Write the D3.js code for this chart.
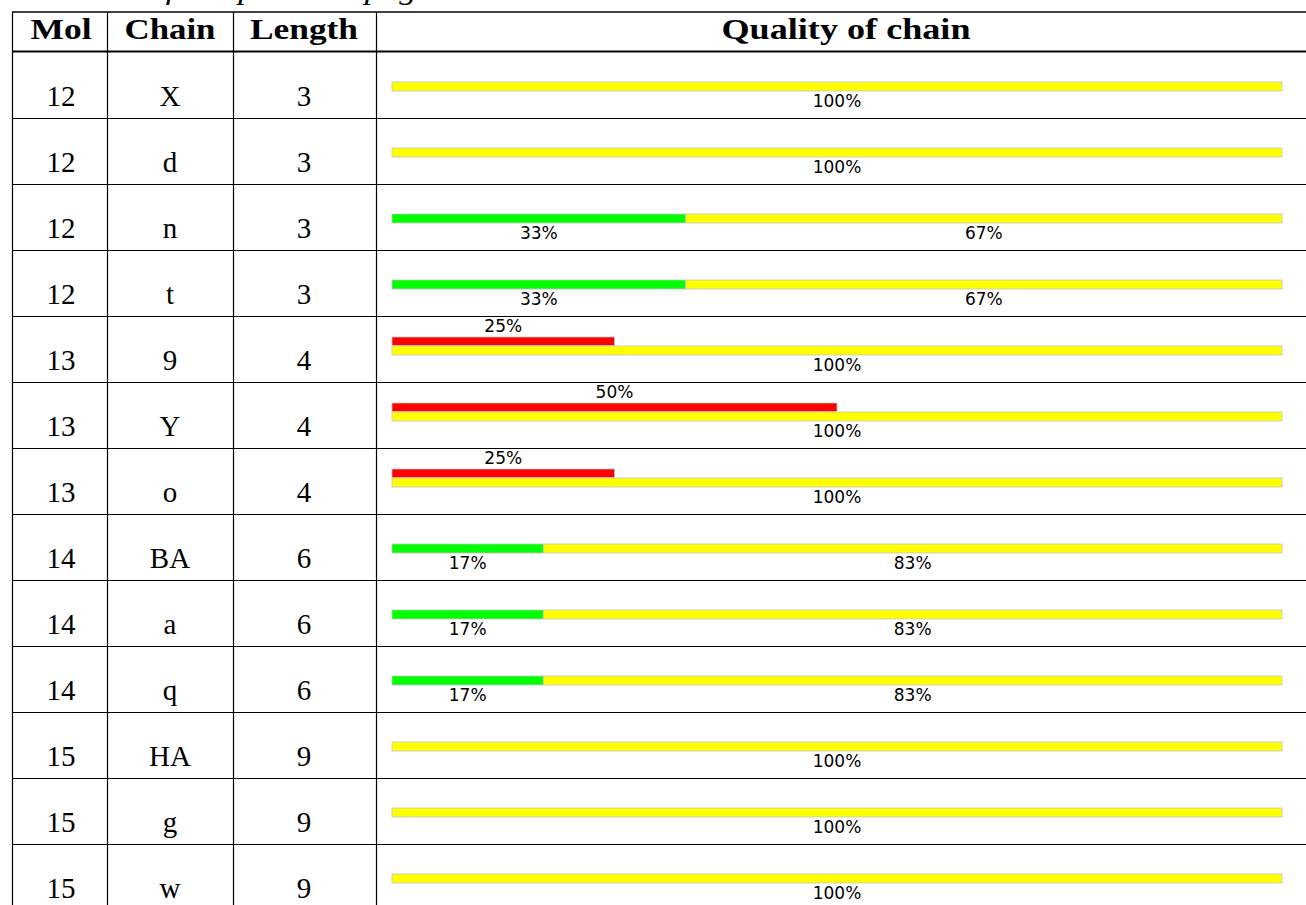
<!DOCTYPE html>
<html>
<head>
<meta charset="utf-8">
<script src="https://cdn.jsdelivr.net/npm/d3@7"></script>
<style>
  body { margin: 0; background: #fff; }
  .serif { font-family: "Liberation Serif", "Times New Roman", serif; }
  .pct { font-family: "DejaVu Sans", sans-serif; font-size: 17px; }
</style>
</head>
<body>
<div id="root"></div>
<script>
const mols    = [12, 12, 12, 12, 13, 13, 13, 14, 14, 14, 15, 15, 15];
const chains  = ["X", "d", "n", "t", "9", "Y", "o", "BA", "a", "q", "HA", "g", "w"];
const lengths = [3, 3, 3, 3, 4, 4, 4, 6, 6, 6, 9, 9, 9];
// percentages per row
const green  = [0, 0, 33, 33, 0, 0, 0, 17, 17, 17, 0, 0, 0];
const yellow = [100, 100, 67, 67, 100, 100, 100, 83, 83, 83, 100, 100, 100];
const red    = [0, 0, 0, 0, 25, 50, 25, 0, 0, 0, 0, 0, 0];
const headers = ["Mol", "Chain", "Length", "Quality of chain"];

const w = 1306, h = 905;
const colX = [12, 107, 233, 376];
const colCenter = [61, 170, 304, 846];
const headWidth = [61, 91, 108, 249];   // header text widths (CM bold is wide)
const headTop = 12, headBottom = 51.5;
const rowH = 66;

const svg = d3.select("#root").append("svg")
  .attr("width", w).attr("height", h);

const rows = mols.map((m, i) => ({
  mol: m, chain: chains[i], len: lengths[i],
  green: green[i], yellow: yellow[i], red: red[i]
}));

const y = d3.scaleLinear().domain([0, 1]).range([52, 52 + rowH]);
const x = d3.scaleLinear().domain([0, 100]).range([392, 1282]);

// caption, cut at the top like the page
svg.append("text")
  .attr("class", "serif")
  .attr("x", 13).attr("y", -1)
  .attr("textLength", 419).attr("lengthAdjust", "spacingAndGlyphs")
  .style("font-style", "italic").style("font-size", "28px")
  .text("Continued from previous page");

// grid lines
svg.append("line").attr("x1", 12).attr("x2", w).attr("y1", headTop).attr("y2", headTop)
  .attr("stroke", "#000").attr("stroke-width", 1.4);
svg.append("line").attr("x1", 12).attr("x2", w).attr("y1", headBottom).attr("y2", headBottom)
  .attr("stroke", "#000").attr("stroke-width", 2);

svg.selectAll(".hline")
  .data(rows.slice(0, rows.length - 1))
  .enter().append("line")
  .attr("class", "hline")
  .attr("x1", 12).attr("x2", w)
  .attr("y1", (d, i) => Math.round(y(i + 1)) + 0.5)
  .attr("y2", (d, i) => Math.round(y(i + 1)) + 0.5)
  .attr("stroke", "#000").attr("stroke-width", 1.2);

svg.selectAll(".vline")
  .data(colX)
  .enter().append("line")
  .attr("class", "vline")
  .attr("x1", d => d + 0.5).attr("x2", d => d + 0.5)
  .attr("y1", headTop).attr("y2", h)
  .attr("stroke", "#000").attr("stroke-width", 1.2);

// headers
svg.selectAll(".head")
  .data(headers)
  .enter().append("text")
  .attr("class", "serif head")
  .attr("x", (d, i) => colCenter[i] - headWidth[i] / 2)
  .attr("y", 38.5)
  .attr("textLength", (d, i) => headWidth[i])
  .attr("lengthAdjust", "spacingAndGlyphs")
  .style("font-weight", "bold").style("font-size", "29px")
  .text(d => d);

// cell texts
const g = svg.append("g");
["mol", "chain", "len"].forEach((k, c) => {
  g.selectAll(".cell-" + k)
    .data(rows)
    .enter().append("text")
    .attr("class", "serif cell-" + k)
    .attr("x", colCenter[c])
    .attr("y", (d, i) => y(i) + 54)
    .attr("text-anchor", "middle")
    .style("font-size", "29px")
    .text(d => d[k]);
});

// bars
const barStroke = "#c4c4c4";
rows.forEach((d, i) => {
  const top = y(i);
  const segs = [
    { v0: 0, v1: d.green, color: "#00ff00" },
    { v0: d.green, v1: d.green + d.yellow, color: "#ffff00" }
  ].filter(s => s.v1 > s.v0);

  g.selectAll(".seg" + i)
    .data(segs)
    .enter().append("rect")
    .attr("x", s => x(s.v0))
    .attr("width", s => x(s.v1) - x(s.v0))
    .attr("y", top + 30)
    .attr("height", 9)
    .attr("fill", s => s.color)
    .attr("stroke", barStroke).attr("stroke-width", 0.8);

  g.selectAll(".segl" + i)
    .data(segs)
    .enter().append("text")
    .attr("class", "pct")
    .attr("x", s => (x(s.v0) + x(s.v1)) / 2)
    .attr("y", top + 54.5)
    .attr("text-anchor", "middle")
    .text(s => (s.v1 - s.v0) + "%");

  if (d.red > 0) {
    g.append("rect")
      .attr("x", x(0))
      .attr("width", x(d.red) - x(0))
      .attr("y", top + 21)
      .attr("height", 8.5)
      .attr("fill", "#ff0000")
      .attr("stroke", barStroke).attr("stroke-width", 0.8);
    g.append("text")
      .attr("class", "pct")
      .attr("x", (x(0) + x(d.red)) / 2)
      .attr("y", top + 16)
      .attr("text-anchor", "middle")
      .text(d.red + "%");
  }
});
</script>
</body>
</html>
